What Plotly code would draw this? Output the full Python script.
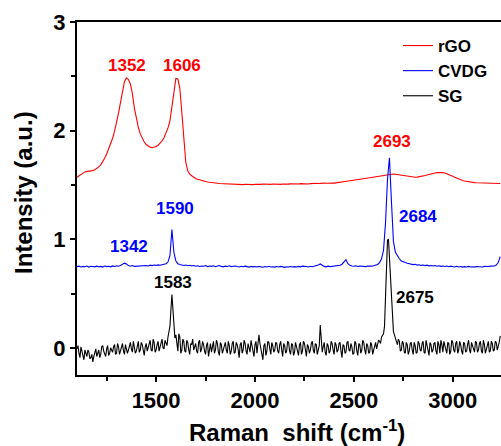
import plotly.graph_objects as go

# Raman shift grid (cm-1), 10 cm-1 sampling from 1100 to 3240
raman_shift = list(range(1100, 3250, 10))
# half-step grid (1105 ... 3235) used for the denser SG record
raman_shift_mid = list(range(1105, 3240, 10))

rgo = [
    1.571, 1.585, 1.600, 1.612, 1.620, 1.625, 1.627, 1.628, 1.632, 1.640,
    1.652, 1.666, 1.685, 1.710, 1.745, 1.785, 1.830, 1.875, 1.930, 1.995,
    2.070, 2.160, 2.260, 2.370, 2.450, 2.485, 2.470, 2.430, 2.340, 2.210,
    2.110, 2.030, 1.970, 1.925, 1.895, 1.872, 1.857, 1.848, 1.843, 1.845,
    1.853, 1.865, 1.882, 1.905, 1.935, 1.975, 2.025, 2.090, 2.220, 2.370,
    2.480, 2.475, 2.390, 2.170, 1.900, 1.710, 1.630, 1.600, 1.585, 1.570,
    1.560, 1.552, 1.546, 1.540, 1.535, 1.530, 1.527, 1.524, 1.520, 1.518,
    1.516, 1.515, 1.513, 1.512, 1.510, 1.511, 1.509, 1.508, 1.510, 1.507,
    1.506, 1.504, 1.507, 1.505, 1.503, 1.506, 1.504, 1.507, 1.505, 1.503,
    1.506, 1.504, 1.507, 1.505, 1.508, 1.506, 1.504, 1.507, 1.505, 1.508,
    1.506, 1.509, 1.507, 1.505, 1.508, 1.506, 1.509, 1.507, 1.510, 1.508,
    1.509, 1.511, 1.508, 1.512, 1.510, 1.513, 1.511, 1.509, 1.512, 1.514,
    1.512, 1.515, 1.513, 1.516, 1.514, 1.517, 1.515, 1.518, 1.516, 1.517,
    1.517, 1.519, 1.520, 1.521, 1.524, 1.527, 1.530, 1.534, 1.538, 1.541,
    1.544, 1.547, 1.549, 1.552, 1.555, 1.558, 1.562, 1.566, 1.570, 1.573,
    1.576, 1.579, 1.582, 1.585, 1.588, 1.591, 1.594, 1.597, 1.599, 1.600,
    1.600, 1.598, 1.595, 1.591, 1.587, 1.584, 1.580, 1.577, 1.574, 1.572,
    1.571, 1.571, 1.572, 1.574, 1.577, 1.581, 1.586, 1.591, 1.597, 1.602,
    1.606, 1.610, 1.613, 1.615, 1.616, 1.614, 1.610, 1.604, 1.597, 1.589,
    1.580, 1.571, 1.562, 1.554, 1.547, 1.541, 1.536, 1.532, 1.528, 1.525,
    1.523, 1.521, 1.520, 1.519, 1.518, 1.517, 1.517, 1.516, 1.516, 1.515,
    1.515, 1.514, 1.514, 1.513, 1.513,
]

cvdg = [
    0.748, 0.752, 0.745, 0.750, 0.747, 0.753, 0.744, 0.751, 0.749, 0.746,
    0.752, 0.747, 0.750, 0.744, 0.753, 0.748, 0.751, 0.746, 0.754, 0.749,
    0.755, 0.752, 0.758, 0.770, 0.780, 0.772, 0.757, 0.752, 0.758, 0.750,
    0.751, 0.757, 0.753, 0.760, 0.755, 0.758, 0.754, 0.761, 0.757, 0.762,
    0.759, 0.764, 0.760, 0.766, 0.768, 0.774, 0.790, 0.850, 1.090, 0.880,
    0.800, 0.775, 0.768, 0.762, 0.758, 0.763, 0.756, 0.760, 0.754, 0.758,
    0.752, 0.756, 0.749, 0.754, 0.751, 0.757, 0.748, 0.753, 0.750, 0.755,
    0.747, 0.753, 0.758, 0.750, 0.746, 0.752, 0.749, 0.755, 0.748, 0.751,
    0.754, 0.749, 0.745, 0.751, 0.747, 0.752, 0.748, 0.743, 0.750, 0.746,
    0.749, 0.744, 0.750, 0.746, 0.742, 0.748, 0.745, 0.751, 0.744, 0.747,
    0.743, 0.749, 0.745, 0.750, 0.746, 0.741, 0.747, 0.744, 0.749, 0.745,
    0.748, 0.744, 0.750, 0.746, 0.752, 0.747, 0.749, 0.745, 0.751, 0.747,
    0.750, 0.754, 0.762, 0.772, 0.757, 0.750, 0.746, 0.752, 0.748, 0.751,
    0.747, 0.752, 0.755, 0.760, 0.770, 0.795, 0.812, 0.775, 0.760, 0.754,
    0.751, 0.755, 0.749, 0.753, 0.750, 0.752, 0.748, 0.754, 0.750, 0.752,
    0.756, 0.760, 0.768, 0.785, 0.820, 0.900, 1.150, 1.550, 1.750, 1.350,
    0.980, 0.880, 0.845, 0.820, 0.800, 0.790, 0.785, 0.778, 0.772, 0.768,
    0.766, 0.770, 0.762, 0.765, 0.759, 0.763, 0.757, 0.761, 0.755, 0.758,
    0.754, 0.758, 0.752, 0.756, 0.750, 0.754, 0.749, 0.753, 0.747, 0.752,
    0.748, 0.745, 0.751, 0.744, 0.749, 0.743, 0.748, 0.745, 0.750, 0.744,
    0.747, 0.743, 0.749, 0.745, 0.748, 0.744, 0.750, 0.746, 0.749, 0.752,
    0.750, 0.754, 0.762, 0.785, 0.840,
]

# SG intensities at 1100, 1110, ... 3240
sg = [
    -0.01, -0.05, 0.01, -0.06, -0.02, -0.08, -0.04, -0.09, -0.13, -0.05,
    -0.08, -0.02, -0.06, 0.02, -0.05, -0.01, -0.07, 0.00, -0.04, 0.03,
    -0.05, 0.01, -0.03, 0.04, -0.06, 0.00, -0.02, 0.05, -0.04, 0.02,
    -0.03, 0.06, -0.02, 0.03, -0.07, 0.04, 0.00, 0.07, -0.03, 0.05,
    -0.02, 0.06, 0.01, 0.08, -0.01, 0.04, 0.10, 0.20, 0.49, 0.17,
    0.12, -0.03, 0.10, -0.02, 0.06, -0.04, 0.05, -0.06, 0.03, -0.02,
    0.04, -0.05, 0.07, -0.01, 0.03, -0.06, 0.05, 0.00, -0.04, 0.06,
    -0.02, 0.04, -0.07, 0.03, -0.01, 0.05, -0.05, 0.02, -0.03, 0.06,
    -0.04, 0.03, -0.09, 0.05, -0.02, 0.04, -0.06, 0.01, 0.07, -0.03,
    0.03, -0.05, 0.12, -0.02, -0.11, 0.04, -0.03, 0.05, -0.06, 0.02,
    -0.02, 0.04, -0.05, 0.06, -0.08, 0.02, -0.03, 0.05, -0.06, 0.03,
    -0.04, 0.02, -0.07, 0.05, -0.03, 0.04, -0.08, 0.01, -0.02, 0.06,
    -0.05, 0.03, -0.02, 0.21, -0.04, 0.05, -0.07, 0.02, -0.03, 0.04,
    -0.06, 0.03, -0.02, 0.05, -0.09, 0.02, -0.04, 0.06, -0.03, 0.01,
    -0.05, 0.04, -0.07, 0.03, -0.02, 0.05, -0.06, 0.02, -0.04, 0.03,
    -0.02, 0.05, 0.02, 0.06, 0.10, 0.13, 0.42, 0.99, 0.84, 0.42,
    0.15, 0.09, 0.03, 0.06, -0.02, 0.04, -0.05, 0.03, -0.03, 0.05,
    -0.06, 0.02, -0.04, 0.04, -0.03, 0.06, -0.05, 0.01, -0.07, 0.03,
    -0.02, 0.05, -0.06, 0.03, 0.07, -0.04, 0.02, -0.05, 0.04, -0.03,
    0.05, -0.04, 0.06, -0.02, 0.03, -0.06, 0.04, -0.03, 0.07, -0.05,
    0.02, -0.04, 0.05, -0.02, 0.06, -0.05, 0.03, -0.01, 0.06, -0.03,
    0.04, -0.02, 0.05, 0.01, 0.11,
]

# SG intensities at 1105, 1115, ... 3235
sg_mid = [
    0.02, -0.09, -0.03, -0.11, -0.05, -0.02, -0.10, -0.06, -0.08, -0.01,
    -0.04, -0.09, 0.01, -0.03, -0.08, 0.02, -0.05, -0.02, 0.01, -0.06,
    0.04, -0.06, 0.02, -0.03, 0.03, -0.05, 0.03, -0.01, 0.06, -0.05,
    0.02, -0.04, 0.05, -0.02, 0.01, -0.03, 0.05, -0.02, 0.08, -0.04,
    0.03, -0.03, 0.05, 0.00, 0.07, 0.02, 0.14, 0.35, 0.36, 0.09,
    0.02, 0.13, -0.05, 0.08, -0.03, 0.07, -0.02, 0.04, 0.08, 0.01,
    -0.03, 0.05, -0.04, 0.06, -0.03, 0.02, -0.08, 0.04, 0.01, -0.05,
    0.07, -0.04, 0.05, -0.05, 0.03, -0.02, 0.06, -0.06, 0.04, -0.05,
    0.05, -0.02, 0.03, -0.05, 0.07, -0.03, 0.04, -0.04, 0.02, -0.08,
    0.06, 0.02, 0.04, -0.06, 0.02, -0.07, 0.06, -0.01, 0.05, -0.04,
    0.05, -0.03, 0.03, -0.02, 0.04, -0.05, 0.06, -0.03, 0.04, -0.07,
    0.05, -0.03, 0.03, -0.06, 0.06, -0.02, 0.03, -0.05, 0.04, -0.02,
    0.04, -0.06, 0.02, 0.03, 0.01, -0.04, 0.04, -0.05, 0.06, -0.02,
    0.05, -0.04, 0.04, -0.03, 0.03, -0.05, 0.05, -0.02, 0.04, -0.06,
    0.06, -0.03, 0.04, -0.05, 0.07, -0.02, 0.04, -0.05, 0.05, -0.06,
    0.03, -0.01, 0.07, 0.04, 0.11, 0.20, 0.75, 1.00, 0.65, 0.25,
    0.12, 0.05, 0.08, -0.03, 0.06, -0.04, 0.05, -0.06, 0.04, -0.02,
    0.05, -0.05, 0.06, -0.02, 0.04, -0.04, 0.07, -0.03, 0.05, -0.04,
    0.04, -0.03, 0.06, -0.05, 0.03, 0.06, -0.04, 0.05, -0.06, 0.07,
    -0.02, 0.04, -0.05, 0.06, -0.03, 0.05, -0.04, 0.03, -0.02, 0.05,
    -0.03, 0.06, -0.04, 0.04, -0.03, 0.07, -0.05, 0.04, -0.04, 0.06,
    -0.03, 0.06, -0.02, 0.05,
]

series_names = ["rGO", "CVDG", "SG"]
series_colors = ["#ff0000", "#0000ff", "#000000"]

# peak labels: text, x, y, colour
peak_labels = ["1352", "1606", "2693", "1590", "1342", "2684", "1583", "2675"]
peak_x = [1353, 1631, 2695, 1595, 1361, 2824, 1587, 2809]
peak_y = [2.60, 2.60, 1.90, 1.28, 0.936, 1.206, 0.60, 0.46]
peak_colors = ["#ff0000", "#ff0000", "#ff0000", "#0000ff", "#0000ff", "#0000ff", "#000000", "#000000"]

x_ticks = [1500, 2000, 2500, 3000]
y_ticks = [0, 1, 2, 3]

FONT = "Liberation Sans, Arial, sans-serif"

# merge the two SG sampling grids into one ordered record
sg_pairs = sorted(zip(raman_shift + raman_shift_mid, sg + sg_mid))
sg_x = [p[0] for p in sg_pairs]
sg_y = [p[1] for p in sg_pairs]

fig = go.Figure()
xs_list = [raman_shift, raman_shift, sg_x]
ys_list = [rgo, cvdg, sg_y]
for name, xs, ys, col in zip(series_names, xs_list, ys_list, series_colors):
    fig.add_trace(go.Scatter(x=xs, y=ys, mode="lines", name=name,
                             line=dict(color=col, width=1.1)))

for t, px, py, c in zip(peak_labels, peak_x, peak_y, peak_colors):
    fig.add_annotation(x=px, y=py, text=t, showarrow=False,
                       font=dict(family=FONT, size=17, color=c, weight="bold"),
                       xanchor="center", yanchor="middle")

fig.add_annotation(xref="paper", yref="paper", x=(297 - 77) / 424, y=(375 - 431) / 353,
                   text="Raman  shift (cm<sup>-1</sup>)", showarrow=False,
                   font=dict(family=FONT, size=24, color="black", weight="bold"),
                   xanchor="center", yanchor="middle")
fig.add_annotation(xref="paper", yref="paper", x=(23 - 77) / 424, y=(375 - 193) / 353,
                   text="Intensity (a.u.)", showarrow=False, textangle=-90,
                   font=dict(family=FONT, size=24, color="black", weight="bold"),
                   xanchor="center", yanchor="middle")

fig.update_layout(
    width=501, height=446,
    margin=dict(l=77, r=0, t=22, b=71),
    paper_bgcolor="white", plot_bgcolor="white",
    font=dict(family=FONT, color="black"),
    showlegend=True,
    legend=dict(x=(398 - 77) / 424, y=(375 - 28) / 353, xanchor="left", yanchor="top",
                bgcolor="rgba(0,0,0,0)", borderwidth=0,
                font=dict(family=FONT, size=17, color="black", weight="bold"),
                tracegroupgap=0),
)
fig.update_xaxes(range=[1100, 3244], tickvals=x_ticks, ticks="outside", ticklen=5,
                 tickwidth=1.5, tickcolor="black",
                 showline=True, linewidth=2, linecolor="black", mirror=True,
                 showgrid=False, zeroline=False,
                 tickfont=dict(family=FONT, size=22, color="black", weight="bold"),
                 minor=dict(tickvals=[1250, 1750, 2250, 2750, 3250], ticks="outside",
                            ticklen=4, tickwidth=1.5, tickcolor="black"))
fig.update_yaxes(range=[-0.25, 3], tickvals=y_ticks, ticks="outside", ticklen=5,
                 tickwidth=1.5, tickcolor="black",
                 showline=True, linewidth=2, linecolor="black", mirror=False,
                 showgrid=False, zeroline=False,
                 tickfont=dict(family=FONT, size=22, color="black", weight="bold"),
                 minor=dict(tickvals=[0.5, 1.5, 2.5], ticks="outside",
                            ticklen=4, tickwidth=1.5, tickcolor="black"))

fig.write_html("out.html", config={"displayModeBar": False},
               post_script="document.body.style.margin='0';document.body.style.overflow='hidden';")
